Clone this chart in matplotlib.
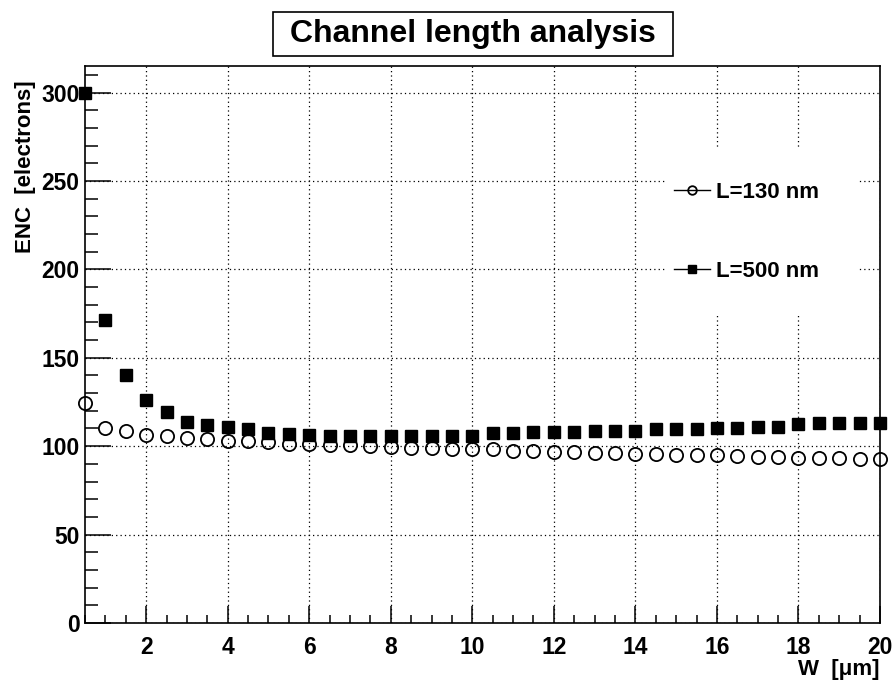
import matplotlib
matplotlib.use("Agg")
import matplotlib.pyplot as plt
from matplotlib.patches import Rectangle
from matplotlib.ticker import MultipleLocator

plt.rcParams['font.family'] = ['Liberation Sans', 'DejaVu Sans']
plt.rcParams['font.weight'] = 'bold'

# channel width W [um]
w = [0.5, 1.0, 1.5, 2.0, 2.5, 3.0, 3.5, 4.0, 4.5, 5.0,
     5.5, 6.0, 6.5, 7.0, 7.5, 8.0, 8.5, 9.0, 9.5, 10.0,
     10.5, 11.0, 11.5, 12.0, 12.5, 13.0, 13.5, 14.0, 14.5, 15.0,
     15.5, 16.0, 16.5, 17.0, 17.5, 18.0, 18.5, 19.0, 19.5, 20.0]

# ENC [electrons]
enc_130 = [124.5, 110.0, 108.5, 106.5, 105.5, 104.5, 104.0, 103.2, 102.7, 102.2,
           101.3, 101.0, 100.7, 100.5, 100.0, 99.8, 99.2, 99.0, 98.5, 98.5,
           98.3, 97.5, 97.3, 96.8, 96.7, 96.4, 96.0, 95.5, 95.5, 95.2,
           94.8, 94.8, 94.3, 94.0, 94.0, 93.3, 93.5, 93.3, 92.5, 92.5]
enc_500 = [300.0, 171.5, 140.5, 126.2, 119.6, 113.6, 112.1, 111.1, 109.5, 107.3,
           107.0, 106.3, 105.6, 106.0, 106.0, 106.0, 106.0, 106.0, 106.0, 106.0,
           107.2, 107.2, 107.9, 107.9, 108.0, 108.7, 108.7, 108.7, 109.5, 109.5,
           109.5, 110.4, 110.4, 111.1, 111.1, 112.3, 113.0, 113.0, 113.0, 113.0]

labels = ['L=130 nm', 'L=500 nm']

fig = plt.figure(figsize=(8.95, 6.82), dpi=100)
ax = fig.add_axes([85 / 895, 59 / 682, 795 / 895, 557 / 682])

ax.plot(w, enc_130, linestyle='none', marker='o', markersize=9.5,
        markerfacecolor='none', markeredgecolor='black', markeredgewidth=1.3,
        clip_on=False, zorder=4, label=labels[0])
ax.plot(w, enc_500, linestyle='none', marker='s', markersize=8.5,
        markerfacecolor='black', markeredgecolor='black',
        clip_on=False, zorder=4, label=labels[1])

ax.set_xlim(0.5, 20)
ax.set_ylim(0, 315)

ax.xaxis.set_major_locator(MultipleLocator(2))
ax.xaxis.set_minor_locator(MultipleLocator(0.5))
ax.yaxis.set_major_locator(MultipleLocator(50))
ax.yaxis.set_minor_locator(MultipleLocator(10))

ax.tick_params(axis='both', which='both', direction='in', top=False, right=False,
               width=1.1, labelsize=16.5)
ax.tick_params(axis='x', which='major', length=12, pad=9)
ax.tick_params(axis='x', which='minor', length=6)
ax.tick_params(axis='y', which='major', length=19, pad=4)
ax.tick_params(axis='y', which='minor', length=9.5)
for lab in ax.get_xticklabels() + ax.get_yticklabels():
    lab.set_fontweight('bold')

ax.grid(True, which='major', color='black', linestyle=(0, (1, 2.5)), linewidth=0.9)
ax.set_axisbelow(True)
for sp in ax.spines.values():
    sp.set_linewidth(1.2)

ax.set_xlabel('W  [μm]', fontsize=16, fontweight='bold', loc='right', labelpad=0)
ax.set_ylabel('ENC  [electrons]', fontsize=16, fontweight='bold', y=0.82, labelpad=4)

# white legend box hiding grid
ax.add_patch(Rectangle(((665 - 85) / 795, (623 - 315) / 557), 193 / 795, 168 / 557,
                       transform=ax.transAxes, facecolor='white', edgecolor='none',
                       zorder=2))
leg = ax.legend(loc='center left', bbox_to_anchor=((663 - 85) / 795, (623 - 232) / 557),
                frameon=False, fontsize=16, handlelength=1.6, handletextpad=0.3,
                labelspacing=2.6, markerscale=0.65, borderpad=0)
for h in leg.legend_handles:
    h.set_linestyle('-')
    h.set_color('black')
    h.set_linewidth(1.0)
for t in leg.get_texts():
    t.set_fontweight('bold')
leg.set_zorder(5)

# title box
fig.patches.append(Rectangle((273 / 895, (682 - 56) / 682), 400 / 895, 44 / 682,
                             transform=fig.transFigure, facecolor='white',
                             edgecolor='black', linewidth=1.2))
fig.text(473 / 895, 1 - 34 / 682, 'Channel length analysis', ha='center', va='center',
         fontsize=23, fontweight='bold')

fig.savefig('out.png', dpi=100)
